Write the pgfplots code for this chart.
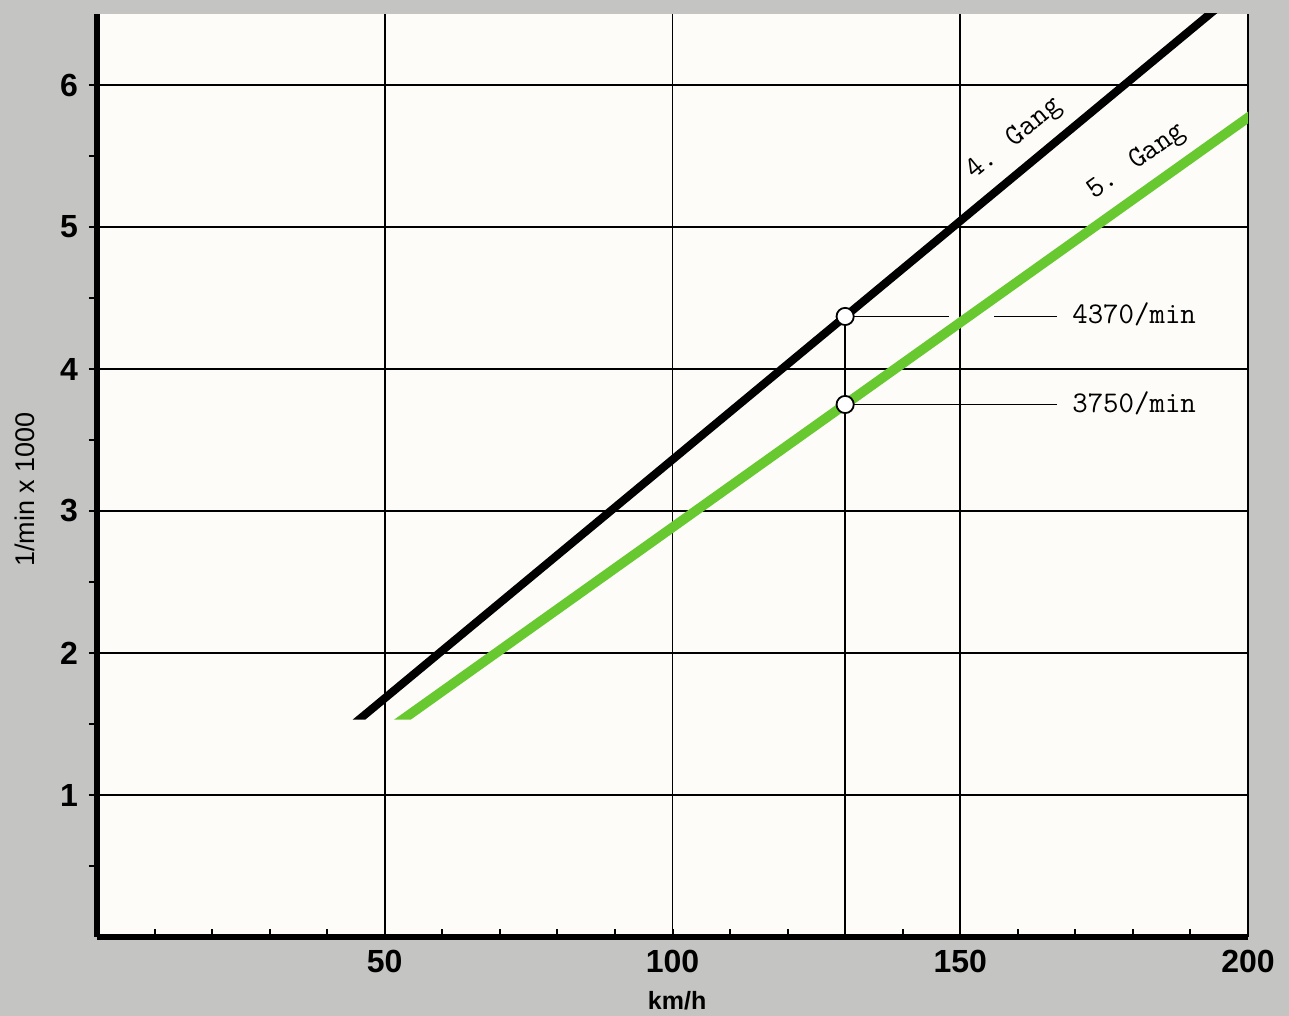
\documentclass[border=0pt]{standalone}
\usepackage{fontspec}
\setmainfont{Liberation Sans}
\usepackage{pgfplots}
\pgfplotsset{compat=1.18}
\definecolor{bggray}{RGB}{196,196,194}
\definecolor{cream}{RGB}{253,252,248}
\definecolor{gangGreen}{RGB}{104,200,48}
\newfontfamily\mono{Latin Modern Mono}
\begin{document}
\begin{tikzpicture}
\fill[bggray] (0,0) rectangle (644.5pt,508pt);
\begin{axis}[
  at={(48.5pt,39.5pt)}, anchor=south west,
  scale only axis, width=575.5pt, height=461.5pt,
  xmin=0, xmax=200, ymin=0, ymax=6.5,
  axis x line*=bottom, axis y line*=left,
  axis line style={line width=2.6pt, -},
  axis background/.style={fill=cream},
  xtick={50,100,150,200}, ytick={1,2,3,4,5,6},
  minor xtick={10,20,30,40,60,70,80,90,110,120,130,140,160,170,180,190},
  minor ytick={0.5,1.5,2.5,3.5,4.5,5.5},
  xtick align=inside, ytick align=outside,
  major tick length=4pt, minor tick length=4pt,
  tick style={line width=1pt, black},
  grid=major, major grid style={line width=0.9pt, black},
  /pgf/number format/assume math mode=true,
  ticklabel style={font=\fontsize{16}{18}\selectfont\bfseries},
  xticklabel style={yshift=-3pt},
  yticklabel style={xshift=-2pt},
  xlabel={km/h}, ylabel={1/min x 1000},
  every axis x label/.style={at={(axis description cs:0.504,-0.0693)}, anchor=center, font=\fontsize{12.5}{14}\selectfont\bfseries},
  every axis y label/.style={at={(axis description cs:-0.0626,0.485)}, rotate=90, anchor=center, font=\fontsize{13.5}{15}\selectfont},
  clip=true,
]
% 4. Gang (black band)
\addplot[fill=black, draw=none] coordinates {(44.4,1.53) (46.6,1.53) (203.4,6.8) (201.2,6.8)} -- cycle;
% 5. Gang (green band)
\addplot[fill=gangGreen, draw=none] coordinates {(51.6,1.53) (54.5,1.53) (209.4,6.0) (206.5,6.0)} -- cycle;
% reference lines at 130 km/h
\addplot[line width=0.9pt, black] coordinates {(130,0) (130,4.37)};
\addplot[line width=0.9pt, black] coordinates {(130,4.37) (148.1,4.37)};
\addplot[line width=0.9pt, black] coordinates {(155.9,4.37) (166.8,4.37)};
\addplot[line width=0.9pt, black] coordinates {(130,3.75) (166.8,3.75)};
\addplot[only marks, mark=*, mark size=4.3pt, mark options={fill=white, draw=black, line width=0.9pt}] coordinates {(130,4.37) (130,3.75)};
\node[anchor=base west, inner sep=0pt, font=\mono\fontsize{15}{17}\selectfont] at (axis cs:169.4,4.37) [yshift=-3.5pt] {4370/min};
\node[anchor=base west, inner sep=0pt, font=\mono\fontsize{15}{17}\selectfont] at (axis cs:169.4,3.75) [yshift=-4pt] {3750/min};
\node[anchor=base west, inner sep=0pt, rotate=39.6, font=\mono\fontsize{15}{17}\selectfont] at (axis cs:152.5,5.33) {4. Gang};
\node[anchor=base west, inner sep=0pt, rotate=35.4, font=\mono\fontsize{15}{17}\selectfont] at (axis cs:173.2,5.19) {5. Gang};
\end{axis}
\pgfresetboundingbox
\path[use as bounding box] (0,0) rectangle (644.5pt,508pt);
\end{tikzpicture}
\end{document}
